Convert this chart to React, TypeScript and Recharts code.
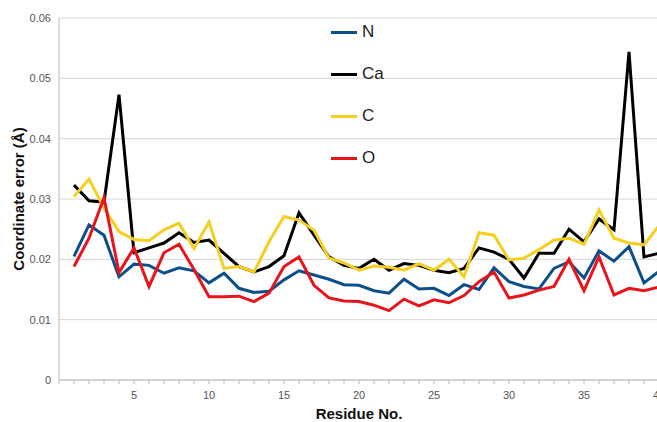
import React from 'react';
import { LineChart, Line, XAxis, YAxis, CartesianGrid } from 'recharts';

const residues = Array.from({ length: 40 }, (_, i) => i + 1);

const nErr = [0.0205, 0.0257, 0.0240, 0.0171, 0.0192, 0.0190, 0.0177, 0.0186, 0.0181, 0.0161,
  0.0177, 0.0152, 0.0145, 0.0147, 0.0166, 0.0181, 0.0174, 0.0167, 0.0158, 0.0157,
  0.0148, 0.0144, 0.0167, 0.0151, 0.0152, 0.0140, 0.0158, 0.0150, 0.0186, 0.0163,
  0.0155, 0.0151, 0.0185, 0.0196, 0.0169, 0.0214, 0.0197, 0.0221, 0.0161, 0.0180];

const caErr = [0.0323, 0.0297, 0.0295, 0.0473, 0.0211, 0.0219, 0.0227, 0.0244, 0.0228, 0.0232,
  0.0210, 0.0188, 0.0179, 0.0188, 0.0206, 0.0277, 0.0240, 0.0204, 0.0190, 0.0185,
  0.0200, 0.0182, 0.0193, 0.0190, 0.0182, 0.0178, 0.0185, 0.0219, 0.0212, 0.0200,
  0.0169, 0.0210, 0.0210, 0.0250, 0.0229, 0.0267, 0.0249, 0.0544, 0.0204, 0.0210];

const cErr = [0.0304, 0.0333, 0.0285, 0.0246, 0.0233, 0.0231, 0.0249, 0.0260, 0.0218, 0.0262,
  0.0185, 0.0188, 0.0179, 0.0229, 0.0271, 0.0265, 0.0248, 0.0202, 0.0194, 0.0182,
  0.0189, 0.0187, 0.0182, 0.0193, 0.0182, 0.0200, 0.0171, 0.0244, 0.0240, 0.0199,
  0.0202, 0.0216, 0.0232, 0.0235, 0.0225, 0.0282, 0.0235, 0.0227, 0.0224, 0.0256];

const oErr = [0.0188, 0.0235, 0.0302, 0.0178, 0.0219, 0.0155, 0.0211, 0.0225, 0.0183, 0.0138,
  0.0138, 0.0139, 0.0130, 0.0144, 0.0188, 0.0204, 0.0157, 0.0136, 0.0131, 0.0130,
  0.0124, 0.0115, 0.0134, 0.0123, 0.0133, 0.0128, 0.0140, 0.0163, 0.0179, 0.0136,
  0.0141, 0.0149, 0.0155, 0.0200, 0.0148, 0.0204, 0.0141, 0.0152, 0.0148, 0.0154];

const xTicks = Array.from({ length: 41 }, (_, i) => i);
const yTicks = [0, 0.01, 0.02, 0.03, 0.04, 0.05, 0.06];

const series = [
  { key: 'N', color: '#0b4f8a' },
  { key: 'Ca', color: '#000000' },
  { key: 'C', color: '#f5cf1f' },
  { key: 'O', color: '#e8141c' },
];

const data = residues.map((r, i) => ({ res: r, N: nErr[i], Ca: caErr[i], C: cErr[i], O: oErr[i] }));

const font = '"Liberation Sans", Arial, sans-serif';

// legend sits over the plot, so keep it out of the chart's layout
const LegendBox = () => (
  <div style={{ position: 'absolute', left: 331, top: 11, fontFamily: font, fontSize: 17, color: '#222' }}>
    {series.map((s) => (
      <div key={s.key} style={{ display: 'flex', alignItems: 'center', height: 42 }}>
        <div style={{ width: 26, height: 3, background: s.color, marginRight: 5 }} />
        <span>{s.key}</span>
      </div>
    ))}
  </div>
);

const App: React.FC = () => {
  return (
    <div style={{ position: 'fixed', left: 0, top: 0, width: 657, height: 422, overflow: 'hidden', background: '#fff' }}>
      <LineChart width={690} height={422} data={data} margin={{ top: 18, right: 31, bottom: 0, left: 0 }}>
        <CartesianGrid horizontal vertical={false} stroke="#d6d6d6" />
        <XAxis
          dataKey="res"
          type="number"
          domain={[0, 40]}
          ticks={xTicks}
          interval={0}
          tickFormatter={(v: number) => (v > 0 && v % 5 === 0 ? String(v) : '')}
          height={42}
          tickSize={4}
          tickMargin={7}
          tickLine={{ stroke: '#b8b8b8' }}
          axisLine={{ stroke: '#b8b8b8' }}
          tick={{ fontSize: 11, fill: '#555', fontFamily: font }}
          label={{ value: 'Residue No.', position: 'insideBottom', offset: 3, style: { fontSize: 15, fontWeight: 'bold', fill: '#111', fontFamily: font } }}
        />
        <YAxis
          type="number"
          domain={[0, 0.06]}
          ticks={yTicks}
          width={59}
          tickLine={false}
          tickSize={6}
          axisLine={{ stroke: '#b8b8b8' }}
          tickFormatter={(v: number) => (v === 0 ? '0' : v.toFixed(2))}
          tick={{ fontSize: 11, fill: '#555', fontFamily: font }}
          label={{ value: 'Coordinate error (Å)', angle: -90, position: 'insideLeft', offset: 19, style: { textAnchor: 'middle', fontSize: 15, fontWeight: 'bold', fill: '#111', fontFamily: font } }}
        />
        {series.map((s) => (
          <Line
            key={s.key}
            type="linear"
            dataKey={s.key}
            stroke={s.color}
            strokeWidth={3}
            dot={false}
            isAnimationActive={false}
          />
        ))}
      </LineChart>
      <LegendBox />
    </div>
  );
};

export default App;
